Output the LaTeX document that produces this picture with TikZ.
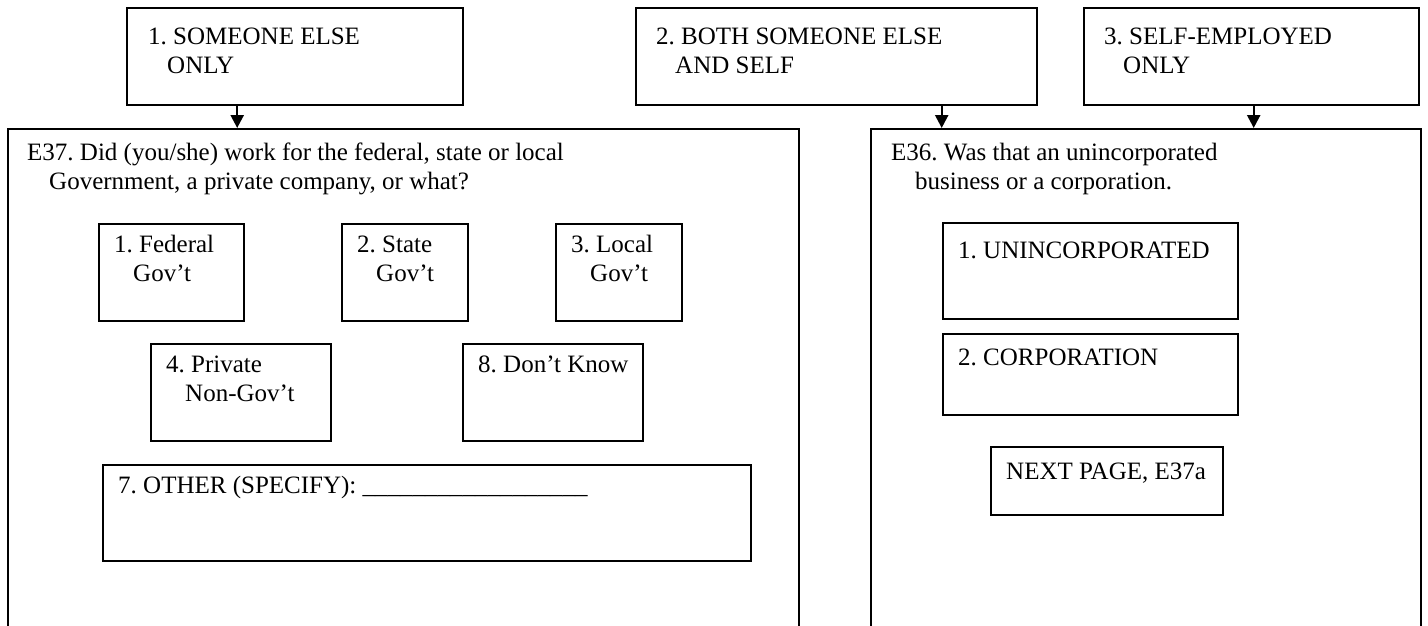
\documentclass[tikz,border=0pt]{standalone}
\usepackage{fontspec}
\setmainfont{Liberation Serif}
\usetikzlibrary{arrows.meta}
\frenchspacing

\tikzset{
  ansbox/.style={draw, line width=2.4pt, rectangle, inner sep=0pt, anchor=north west},
  qbox/.style={draw, line width=2pt, rectangle, inner sep=0pt, anchor=north west},
  txt/.style={inner sep=0pt, anchor=north west, align=left,
    font=\fontsize{25}{29}\selectfont},
  arr/.style={line width=2.4pt, -{Triangle[width=13pt,length=13pt]}}
}
\newcommand{\ind}{\hspace*{19pt}}

\begin{document}
\begin{tikzpicture}[x=1pt,y=-1pt]
  \useasboundingbox (0,0) rectangle (1428,626);
  \clip (0,0) rectangle (1428,626);

  % answers on top
  \node[ansbox, minimum width=336, minimum height=97] (ans1) at (126,7) {};
  \node[ansbox, minimum width=401, minimum height=97] (ans2) at (635,7) {};
  \node[ansbox, minimum width=335, minimum height=97] (ans3) at (1083,7) {};
  \node[txt] (ans1t) at ([shift={(22,17)}]ans1.north west) {\strut 1. SOMEONE ELSE\\\ind ONLY};
  \node[txt] (ans2t) at ([shift={(21,17)}]ans2.north west) {\strut 2. BOTH SOMEONE ELSE\\\ind AND SELF};
  \node[txt] (ans3t) at ([shift={(21,17)}]ans3.north west) {\strut 3. SELF-EMPLOYED\\\ind ONLY};

  % question boxes, open at the bottom
  \node[qbox, minimum width=791, minimum height=540] (q37) at (7,128) {};
  \node[qbox, minimum width=550, minimum height=540] (q36) at (870,128) {};
  \node[txt] (q37t) at ([shift={(20,12)}]q37.north west)
    {\strut E37. Did (you/she) work for the federal, state or local\\\hspace*{22pt}Government, a private company, or what?};
  \node[txt] (q36t) at ([shift={(21,12)}]q36.north west)
    {\strut E36. Was that an unincorporated\\\hspace*{24pt}business or a corporation.};

  % E37 options
  \node[ansbox, minimum width=145, minimum height=97] (fed) at (98,223) {};
  \node[ansbox, minimum width=126, minimum height=97] (state) at (341,223) {};
  \node[ansbox, minimum width=126, minimum height=97] (local) at (555,223) {};
  \node[ansbox, minimum width=180, minimum height=97] (priv) at (150,343) {};
  \node[ansbox, minimum width=180, minimum height=97] (dk) at (462,343) {};
  \node[ansbox, minimum width=648, minimum height=96] (other) at (102,464) {};
  \node[txt] (fedt) at ([shift={(16,9)}]fed.north west) {\strut 1. Federal\\\ind Gov't};
  \node[txt] (statet) at ([shift={(16,9)}]state.north west) {\strut 2. State\\\ind Gov't};
  \node[txt] (localt) at ([shift={(16,9)}]local.north west) {\strut 3. Local\\\ind Gov't};
  \node[txt] (privt) at ([shift={(16,9)}]priv.north west) {\strut 4. Private\\\ind Non-Gov't};
  \node[txt] (dkt) at ([shift={(16,9)}]dk.north west) {\strut 8. Don't Know};
  \node[txt] (othert) at ([shift={(16,9)}]other.north west)
    {\strut 7. OTHER (SPECIFY): \_\_\_\_\_\_\_\_\_\_\_\_\_\_\_\_\_\_};

  % E36 options
  \node[ansbox, minimum width=295, minimum height=96] (uninc) at (942,222) {};
  \node[ansbox, minimum width=295, minimum height=81] (corp) at (942,333) {};
  \node[ansbox, minimum width=232, minimum height=68] (next) at (990,446) {};
  \node[txt] (uninct) at ([shift={(16,16)}]uninc.north west) {\strut 1. UNINCORPORATED};
  \node[txt] (corpt) at ([shift={(16,12)}]corp.north west) {\strut 2. CORPORATION};
  \node[txt] (nextt) at ([shift={(16,13)}]next.north west) {\strut NEXT PAGE, E37a};

  % routing arrows
  \draw[arr] ([xshift=-58pt]ans1.south) -- ([xshift=-58pt]ans1.south |- q37.north);
  \draw[arr] ([xshift=105pt]ans2.south) -- ([xshift=105pt]ans2.south |- q36.north);
  \draw[arr] ([xshift=2pt]ans3.south) -- ([xshift=2pt]ans3.south |- q36.north);
\end{tikzpicture}
\end{document}
